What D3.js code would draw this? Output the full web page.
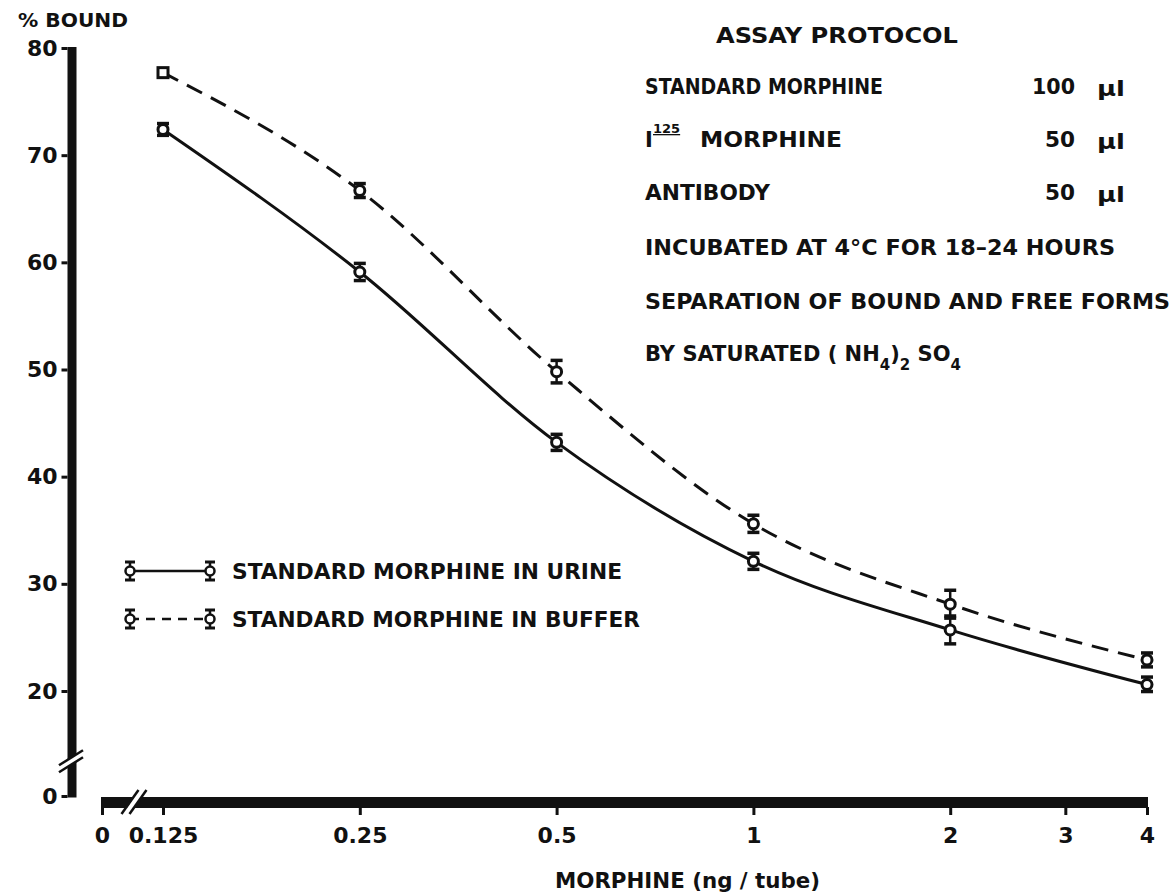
<!DOCTYPE html>
<html>
<head>
<meta charset="utf-8">
<script src="https://cdn.jsdelivr.net/npm/d3@7"></script>
<style>
  html, body { margin: 0; padding: 0; background: #fff; }
  svg { display: block; }
  text { font-family: "DejaVu Sans", sans-serif; font-weight: bold; fill: #111; }
</style>
</head>
<body>
<svg id="chart" width="1174" height="895"></svg>
<script>
// ---------------- data ----------------
const doses = [0.125, 0.25, 0.5, 1, 2, 4];               // ng/tube
const urine = [72.4, 59.1, 43.2, 32.1, 25.7, 20.6];        // % bound, standard in urine
const urineErr = [0.55, 0.8, 0.75, 0.75, 1.3, 0.7];
const buffer = [77.7, 66.7, 49.8, 35.6, 28.1, 22.9];       // % bound, standard in buffer
const bufferErr = [0, 0.65, 1.05, 0.8, 1.3, 0.65];
const xTickVals = [0.125, 0.25, 0.5, 1, 2, 3, 4];
const xTickLabels = ["0.125", "0.25", "0.5", "1", "2", "3", "4"];
const yTickVals = [0, 20, 30, 40, 50, 60, 70, 80];
const legendLabels = ["STANDARD MORPHINE IN URINE", "STANDARD MORPHINE IN BUFFER"];
const protocolTitle = "ASSAY PROTOCOL";
const protocolItems = ["STANDARD MORPHINE", "MORPHINE", "ANTIBODY"];
const protocolVolumes = ["100", "50", "50"];
const protocolUnit = "µl";

// ---------------- scales ----------------
const svg = d3.select("#chart");
const ink = "#111";
const x = d3.scaleLog().base(2).domain([0.125, 4]).range([163, 1147]);
const xZeroScale = d3.scaleLinear().domain([0, 1]).range([102, 103]); // the "0" before the break
const y = d3.scaleLinear().domain([0, 20, 80]).range([796, 691, 48]);  // broken axis

const fs = 22;
function txt(str, x0, cy, w, size) {
  const s = size || fs;
  const t = svg.append("text").attr("x", x0).attr("y", cy + 0.365 * s)
    .attr("font-size", s).text(str);
  if (w) t.attr("textLength", w).attr("lengthAdjust", "spacingAndGlyphs");
  return t;
}

// ---------------- axes ----------------
// Y axis
const axY = svg.append("g").attr("transform", "translate(67.5,0)")
  .call(d3.axisLeft(y).tickValues(yTickVals).tickSize(6).tickPadding(4).tickFormat(d3.format("d")));
axY.select(".domain").remove();
axY.selectAll(".tick line").attr("stroke", ink).attr("stroke-width", 3);
axY.selectAll(".tick text").attr("font-size", 22).attr("font-family", "DejaVu Sans")
  .attr("font-weight", "bold").attr("fill", ink);
svg.append("line").attr("x1", 72).attr("x2", 72).attr("y1", y(80) - 1).attr("y2", y(0) + 1.5)
  .attr("stroke", ink).attr("stroke-width", 9);

// Y break
const yb = y(7);
svg.append("path").attr("d", `M58,${yb + 7} L84,${yb - 9} L84,${yb - 3} L58,${yb + 13} Z`).attr("fill", "#fff");
svg.append("line").attr("x1", 59).attr("y1", yb + 6).attr("x2", 83).attr("y2", yb - 9)
  .attr("stroke", ink).attr("stroke-width", 2.5);
svg.append("line").attr("x1", 59).attr("y1", yb + 13).attr("x2", 83).attr("y2", yb - 2)
  .attr("stroke", ink).attr("stroke-width", 2.5);

// X axis
svg.append("line").attr("x1", xZeroScale(0) - 1).attr("x2", x(4) + 1).attr("y1", 802.5).attr("y2", 802.5)
  .attr("stroke", ink).attr("stroke-width", 11);
const axX = svg.append("g").attr("transform", "translate(0,807)")
  .call(d3.axisBottom(x).tickValues(xTickVals).tickSize(8).tickPadding(12)
    .tickFormat((d, i) => xTickLabels[i]));
const axX0 = svg.append("g").attr("transform", "translate(0,807)")
  .call(d3.axisBottom(xZeroScale).tickValues([0]).tickSize(8).tickPadding(12).tickFormat(d3.format("d")));
[axX, axX0].forEach(a => {
  a.select(".domain").remove();
  a.selectAll(".tick line").attr("stroke", ink).attr("stroke-width", 3);
  a.selectAll(".tick text").attr("font-size", 22).attr("font-family", "DejaVu Sans")
    .attr("font-weight", "bold").attr("fill", ink);
});
// X break
const xb = (xZeroScale(0) + x(0.125)) / 2;
svg.append("path").attr("d", `M${xb - 10},815 L${xb + 6},790 L${xb + 13},790 L${xb - 3},815 Z`).attr("fill", "#fff");
svg.append("line").attr("x1", xb - 11).attr("y1", 814).attr("x2", xb + 6).attr("y2", 790)
  .attr("stroke", ink).attr("stroke-width", 2.5);
svg.append("line").attr("x1", xb - 3).attr("y1", 814).attr("x2", xb + 14).attr("y2", 790)
  .attr("stroke", ink).attr("stroke-width", 2.5);

// axis titles
txt("% BOUND", 18, 20, 110, 19);
txt("MORPHINE (ng / tube)", 555, 880, 265, 21);

// ---------------- series ----------------
const line = d3.line().x(d => x(d.dose)).y(d => y(d.v)).curve(d3.curveMonotoneX);
const uData = doses.map((d, i) => ({ dose: d, v: urine[i], e: urineErr[i] }));
const bData = doses.map((d, i) => ({ dose: d, v: buffer[i], e: bufferErr[i] }));

svg.append("path").datum(bData).attr("d", line).attr("fill", "none")
  .attr("stroke", ink).attr("stroke-width", 3).attr("stroke-dasharray", "17,10");
svg.append("path").datum(uData).attr("d", line).attr("fill", "none")
  .attr("stroke", ink).attr("stroke-width", 3);

function errorBars(data) {
  const g = svg.append("g");
  const eb = g.selectAll("g").data(data.filter(d => d.e > 0)).join("g");
  eb.append("line").attr("x1", d => x(d.dose)).attr("x2", d => x(d.dose))
    .attr("y1", d => y(d.v + d.e)).attr("y2", d => y(d.v - d.e))
    .attr("stroke", ink).attr("stroke-width", 2.5);
  eb.append("line").attr("x1", d => x(d.dose) - 6).attr("x2", d => x(d.dose) + 6)
    .attr("y1", d => y(d.v + d.e)).attr("y2", d => y(d.v + d.e))
    .attr("stroke", ink).attr("stroke-width", 3.5);
  eb.append("line").attr("x1", d => x(d.dose) - 6).attr("x2", d => x(d.dose) + 6)
    .attr("y1", d => y(d.v - d.e)).attr("y2", d => y(d.v - d.e))
    .attr("stroke", ink).attr("stroke-width", 3.5);
}
errorBars(uData);
errorBars(bData);

// markers: open circles; first buffer point is an open square
svg.append("g").selectAll("circle").data(uData).join("circle")
  .attr("cx", d => x(d.dose)).attr("cy", d => y(d.v)).attr("r", 5)
  .attr("fill", "#fff").attr("stroke", ink).attr("stroke-width", 3);
svg.append("g").selectAll("circle").data(bData.slice(1)).join("circle")
  .attr("cx", d => x(d.dose)).attr("cy", d => y(d.v)).attr("r", 5)
  .attr("fill", "#fff").attr("stroke", ink).attr("stroke-width", 3);
svg.append("g").selectAll("rect").data(bData.slice(0, 1)).join("rect")
  .attr("x", d => x(d.dose) - 5).attr("y", d => y(d.v) - 5).attr("width", 10).attr("height", 10)
  .attr("fill", "#fff").attr("stroke", ink).attr("stroke-width", 3);

// ---------------- legend ----------------
const legendRows = [
  { label: legendLabels[0], dash: null, cy: 571, w: 390 },
  { label: legendLabels[1], dash: "9,7", cy: 619, w: 408 }
];
legendRows.forEach(r => {
  const g = svg.append("g");
  g.append("line").attr("x1", 130).attr("x2", 210).attr("y1", r.cy).attr("y2", r.cy)
    .attr("stroke", ink).attr("stroke-width", 2.5).attr("stroke-dasharray", r.dash);
  [130, 210].forEach(cx => {
    g.append("line").attr("x1", cx).attr("x2", cx).attr("y1", r.cy - 9).attr("y2", r.cy + 9)
      .attr("stroke", ink).attr("stroke-width", 2.5);
    g.append("line").attr("x1", cx - 5).attr("x2", cx + 5).attr("y1", r.cy - 9).attr("y2", r.cy - 9)
      .attr("stroke", ink).attr("stroke-width", 3);
    g.append("line").attr("x1", cx - 5).attr("x2", cx + 5).attr("y1", r.cy + 9).attr("y2", r.cy + 9)
      .attr("stroke", ink).attr("stroke-width", 3);
    g.append("circle").attr("cx", cx).attr("cy", r.cy).attr("r", 4.5)
      .attr("fill", "#fff").attr("stroke", ink).attr("stroke-width", 2.5);
  });
  txt(r.label, 232, r.cy, r.w, 21);
});

// ---------------- assay protocol ----------------
txt(protocolTitle, 716, 35, 242, 22);
const rowsY = [86, 139, 192];
txt(protocolItems[0], 645, rowsY[0], 238, 21);
// I^125 MORPHINE
txt("I", 645, rowsY[1], null, 21);
svg.append("text").attr("x", 653).attr("y", rowsY[1] - 6).attr("font-size", 13)
  .attr("text-decoration", "underline").text("125");
txt(protocolItems[1], 700, rowsY[1], 142, 21);
txt(protocolItems[2], 645, rowsY[2], 125, 21);
const volX = [1032, 1045, 1045];
const volW = [43, 30, 30];
protocolVolumes.forEach((v, i) => {
  txt(v, volX[i], rowsY[i], volW[i], 21);
  txt(protocolUnit, 1097, rowsY[i] + 2, 28, 22);
});
txt("INCUBATED AT 4°C FOR 18–24 HOURS", 645, 247, 470, 21);
txt("SEPARATION OF BOUND AND FREE FORMS", 645, 301, 525, 21);
// BY SATURATED (NH4)2 SO4
const t = svg.append("text").attr("x", 645).attr("y", 353 + 8).attr("font-size", 21);
t.append("tspan").text("BY SATURATED ( NH");
t.append("tspan").attr("dy", 9).attr("font-size", 15).text("4");
t.append("tspan").attr("dy", -9).text(")");
t.append("tspan").attr("dy", 9).attr("font-size", 15).text("2");
t.append("tspan").attr("dy", -9).text(" SO");
t.append("tspan").attr("dy", 9).attr("font-size", 15).text("4");
</script>
</body>
</html>
